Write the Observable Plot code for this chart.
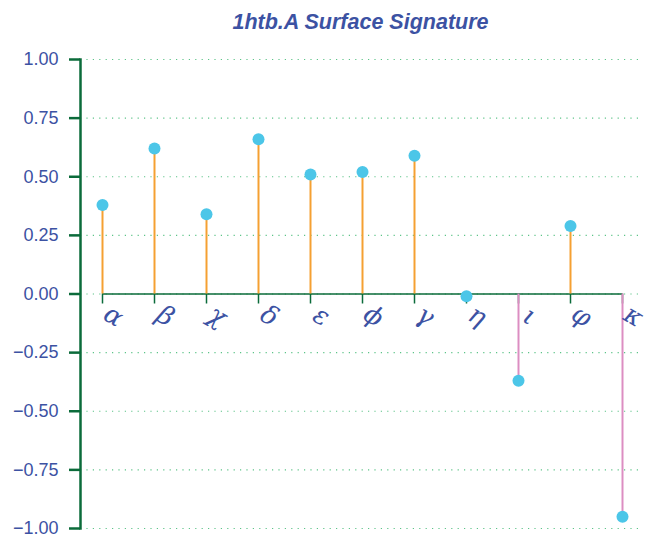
<!DOCTYPE html>
<html>
<head>
<meta charset="utf-8">
<script src="https://cdn.jsdelivr.net/npm/d3@7"></script>
<script src="https://cdn.jsdelivr.net/npm/@observablehq/plot@0.6"></script>
<style>
  html, body { margin: 0; padding: 0; background: #fff; }
</style>
</head>
<body>
<div id="chart"></div>
<script>
const title = "1htb.A Surface Signature";
const categories = ["α", "β", "χ", "δ", "ε", "ϕ", "γ", "η", "ι", "φ", "κ"];
const values = [0.38, 0.62, 0.34, 0.66, 0.51, 0.52, 0.59, -0.01, -0.37, 0.29, -0.95];
const yTicks = [-1, -0.75, -0.5, -0.25, 0, 0.25, 0.5, 0.75, 1];

const data = categories.map((c, i) => ({cat: c, value: values[i]}));

const green = "#0b6b3a";
const blue = "#3c52a3";
const fmt = d3.format(".2f");

const plot = Plot.plot({
  width: 648,
  height: 538,
  marginLeft: 80,
  marginRight: 8,
  marginTop: 59,
  marginBottom: 10,
  style: {fontFamily: "'Liberation Sans', Arial, sans-serif", background: "#fff"},
  x: {type: "point", domain: categories, range: [102, 622], padding: 0, axis: null},
  y: {domain: [-1, 1], axis: null},
  marks: [
    Plot.gridY(yTicks, {stroke: "#5cc488", strokeOpacity: 1, strokeWidth: 1.2, strokeDasharray: "1.2,5.2"}),
    Plot.axisY(yTicks, {tickSize: 11, strokeWidth: 2.5, stroke: green, text: null, label: null}),
    Plot.text(yTicks, {
      y: d => d, frameAnchor: "left", dx: -22, text: d => fmt(d), textAnchor: "end",
      fontSize: 18, fill: blue
    }),
    Plot.frame({anchor: "left", stroke: green, strokeWidth: 2.5}),
    Plot.ruleY([0], {x1: () => categories[0], x2: () => categories[categories.length - 1], stroke: green, strokeWidth: 1.5}),
    Plot.ruleX(categories, {x: d => d, y1: 0, y2: 0, insetBottom: -10, stroke: green, strokeWidth: 1.5}),
    Plot.ruleX(data, {x: "cat", y1: 0, y2: "value", stroke: d => d.value >= 0 ? "#f5a032" : "#dc8ec2", strokeWidth: 2}),
    Plot.dot(data, {x: "cat", y: "value", r: 6, fill: "#4cc6e8", stroke: "none"}),
    Plot.text(categories, {
      x: d => d, y: () => 0, text: d => d, dx: 11, dy: 22, rotate: 30,
      fontSize: 26, fill: blue, fontStyle: "italic", fontFamily: "'DejaVu Serif', serif",
      textAnchor: "middle", lineAnchor: "middle"
    }),
    Plot.text([title], {
      frameAnchor: "top", dy: -37, text: d => d, fontSize: 21.5, fontWeight: "bold",
      fontStyle: "italic", fill: blue, lineAnchor: "middle"
    })
  ]
});
document.getElementById("chart").appendChild(plot);
</script>
</body>
</html>
